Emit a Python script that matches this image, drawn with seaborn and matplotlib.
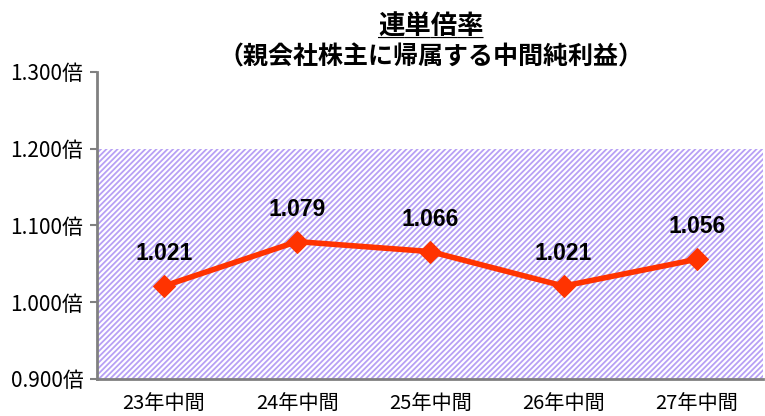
import numpy as np
import pandas as pd
import seaborn as sns
import matplotlib
matplotlib.use("Agg")
import matplotlib.pyplot as plt

# data
periods = ["23年中間", "24年中間", "25年中間", "26年中間", "27年中間"]
ratios = [1.021, 1.079, 1.066, 1.021, 1.056]
y_ticks = [0.9, 1.0, 1.1, 1.2, 1.3]
band_low, band_high = 0.9, 1.2

df = pd.DataFrame({"period": periods, "ratio": ratios})

sns.set_style("white")
plt.rcParams["font.family"] = ["Noto Sans CJK JP", "DejaVu Sans"]
plt.rcParams["hatch.linewidth"] = 1.3

fig = plt.figure(figsize=(7.65, 4.16), dpi=100)
ax = fig.add_axes([0.127, 0.089, 0.871, 0.738])

# hatched band 0.9 - 1.2
ax.axhspan(band_low, band_high, facecolor="white", edgecolor="#b7a0f5",
           hatch="//////", linewidth=0, zorder=0)

sns.lineplot(data=df, x="period", y="ratio", ax=ax, color="#ff3300",
             linewidth=4, marker="D", markersize=11, markeredgecolor="#ff3300",
             sort=False, zorder=3)

for i, v in enumerate(ratios):
    ax.annotate(f"{v:.3f}", (i, v), xytext=(0, 15), textcoords="offset points",
                ha="center", va="bottom", fontsize=16.5, fontweight="bold",
                color="black", family=["Liberation Sans", "DejaVu Sans"])

ax.set_xlim(-0.5, len(periods) - 0.5)
ax.set_ylim(0.9, 1.3)
ax.set_yticks(y_ticks)
ax.set_yticklabels([f"{t:.3f}倍" for t in y_ticks], fontsize=15, color="black")
ax.set_xticks(range(len(periods)))
ax.set_xticklabels(periods, fontsize=14.5, color="black")
ax.tick_params(axis="x", length=0, pad=10)
# category boundary ticks
ax.set_xticks(np.arange(-0.5, len(periods) + 0.5, 1), minor=True)
ax.tick_params(axis="x", which="minor", direction="out", length=5, color="#808080", width=1.5)
ax.tick_params(axis="y", direction="out", length=5, color="#808080", width=1.5, pad=5, left=True)
ax.set_xlabel("")
ax.set_ylabel("")

for s in ["top", "right"]:
    ax.spines[s].set_visible(False)
for s in ["left", "bottom"]:
    ax.spines[s].set_color("#808080")
    ax.spines[s].set_linewidth(2)

fig.text(0.563, 0.935, "連単倍率", ha="center", va="center", fontsize=19,
         fontweight="bold", color="black")
# underline for the first title line
fig.text(0.563, 0.935, "＿＿＿＿", ha="center", va="center", fontsize=19,
         fontweight="bold", color="black")
fig.text(0.563, 0.862, "（親会社株主に帰属する中間純利益）", ha="center", va="center",
         fontsize=18, fontweight="bold", color="black")

fig.savefig("out.png", dpi=100)
